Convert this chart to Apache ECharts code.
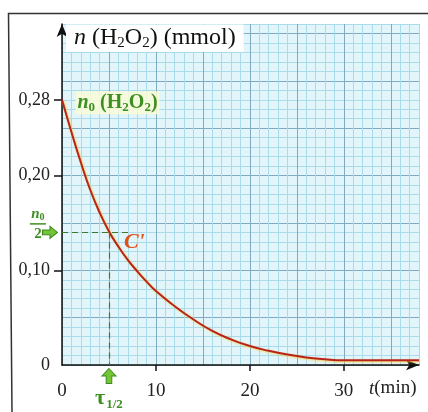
<!DOCTYPE html>
<html>
<head>
<meta charset="utf-8">
<script src="https://cdn.jsdelivr.net/npm/echarts@6/dist/echarts.min.js"></script>
<style>
    html, body { margin: 0; padding: 0; background: #fff; }
    #chart { width: 428px; height: 412px; }
</style>
</head>
<body>
<div id="chart"></div>
<script>
// n(H2O2) en fonction du temps
const tMin = [0, 1, 2, 3, 4, 5, 6, 7, 8, 9, 10, 12, 14, 16, 18, 20, 22, 24, 26, 28, 30, 32, 34, 36, 38];
const nMmol = [0.28, 0.246, 0.214, 0.185, 0.161, 0.141, 0.125, 0.111, 0.099, 0.088, 0.078, 0.062, 0.048, 0.036, 0.027, 0.02, 0.015, 0.011, 0.008, 0.006, 0.005, 0.005, 0.005, 0.005, 0.005];
const xLabels = [0, 10, 20, 30];
const xTicks = [10, 20, 30];
const yLabels = [0, 0.1, 0.2, 0.28];
const yTicks = [0.1, 0.2, 0.28];
const n0 = 0.28;
const nHalf = 0.14;
const tHalf = 5;
const dashEnd = 7.3;
const curveMark = [7.7, 0.129];

const serif = '"Liberation Serif", "DejaVu Serif", serif';
const green = '#3d8f22';
const gridColors = ['#80abc0', '#aadbea', '#aadbea', '#aadbea', '#aadbea'];

const eChart = echarts.init(document.getElementById('chart'));
const option = {
    animation: false,
    title: {
        left: 66,
        top: 23,
        padding: [1, 8, 1, 8],
        backgroundColor: '#ffffff',
        text: '{i|n} (H{s|2}O{s|2}) (mmol)',
        textStyle: {
            fontFamily: serif,
            fontSize: 24,
            fontWeight: 'normal',
            color: '#111',
            rich: {
                i: { fontFamily: serif, fontSize: 24, fontStyle: 'italic', color: '#111' },
                s: { fontFamily: serif, fontSize: 15, color: '#111', padding: [12, 0, 0, 0] }
            }
        }
    },
    grid: {
        left: 62,
        right: 9,
        top: 24,
        bottom: 47,
        outerBoundsMode: 'none',
        containLabel: false,
        show: true,
        backgroundColor: '#e2f5fa',
        borderWidth: 0
    },
    xAxis: [
        {
            // quadrillage
            type: 'value',
            min: 0,
            max: 38,
            interval: 1,
            axisLine: { show: false },
            axisTick: { show: false },
            axisLabel: { show: false },
            splitLine: { show: true, lineStyle: { color: gridColors, width: 1 } }
        },
        {
            type: 'value',
            min: 0,
            max: 38,
            position: 'bottom',
            axisLine: {
                show: true,
                symbol: ['none', 'arrow'],
                symbolSize: [8, 13],
                lineStyle: { color: '#111', width: 1.5 }
            },
            axisTick: { show: true, inside: false, length: 6, customValues: xTicks, lineStyle: { color: '#111', width: 1.5 } },
            axisLabel: {
                customValues: xLabels,
                margin: 17,
                fontFamily: serif,
                fontSize: 19,
                color: '#222'
            },
            splitLine: { show: false }
        }
    ],
    yAxis: [
        {
            type: 'value',
            min: 0,
            max: 0.36,
            interval: 0.01,
            position: 'left',
            axisLine: { show: false },
            axisTick: { show: false },
            axisLabel: { show: false },
            splitLine: { show: true, lineStyle: { color: gridColors, width: 1 } }
        },
        {
            type: 'value',
            min: 0,
            max: 0.36,
            position: 'left',
            axisLine: {
                show: true,
                symbol: ['none', 'arrow'],
                symbolSize: [8, 13],
                lineStyle: { color: '#111', width: 1.5 }
            },
            axisTick: { show: true, inside: false, length: 8, customValues: yTicks, lineStyle: { color: '#111', width: 1.5 } },
            axisLabel: {
                customValues: yLabels,
                margin: 12,
                fontFamily: serif,
                fontSize: 18,
                color: '#222',
                formatter: function(v) {
                    return v === 0 ? '0' : v.toFixed(2).replace('.', ',');
                }
            },
            splitLine: { show: false }
        }
    ],
    graphic: [
        {
            type: 'polyline',
            shape: { points: [[428, 13.5], [8.5, 13.5], [12, 412]] },
            style: { stroke: '#333', lineWidth: 1.5, fill: null }
        },
        {
            type: 'text',
            left: 369,
            top: 379,
            style: {
                text: '{i|t}(min)',
                font: '19px ' + serif,
                fill: '#222',
                rich: {
                    i: { fontFamily: serif, fontSize: 19, fontStyle: 'italic', color: '#222' }
                }
            }
        }
    ],
    series: [
        {
            type: 'line',
            xAxisIndex: 1,
            yAxisIndex: 1,
            smooth: 0.5,
            symbol: 'none',
            data: tMin.map((t, i) => [t, nMmol[i]]),
            lineStyle: {
                color: '#b8231c',
                width: 2,
                shadowColor: 'rgba(255, 200, 40, 0.8)',
                shadowBlur: 2,
                shadowOffsetX: 1,
                shadowOffsetY: 1
            },
            markLine: {
                silent: true,
                symbol: 'none',
                label: { show: false },
                lineStyle: { color: '#3f7a2a', type: [6, 4], width: 1.2 },
                data: [
                    [{ coord: [0, nHalf] }, { coord: [dashEnd, nHalf] }],
                    [{ coord: [tHalf, nHalf] }, { coord: [tHalf, 0] }]
                ]
            },
            markPoint: {
                silent: true,
                data: [
                    {
                        // flèche τ1/2
                        coord: [tHalf, 0],
                        symbol: 'path://M5,0 L10,5 L7,5 L7,10 L3,10 L3,5 L0,5 Z',
                        symbolSize: [14, 15],
                        symbolOffset: [0, 11],
                        itemStyle: { color: '#72c535', borderColor: '#3f8a1f', borderWidth: 1 },
                        label: {
                            show: true,
                            position: 'bottom',
                            distance: 2,
                            formatter: '{t|τ}{s|1/2}',
                            rich: {
                                t: { fontFamily: serif, fontSize: 22, fontWeight: 'bold', color: green },
                                s: { fontFamily: serif, fontSize: 13, fontWeight: 'bold', color: green, padding: [12, 0, 0, 1] }
                            }
                        }
                    },
                    {
                        // flèche n0/2
                        coord: [0, nHalf],
                        symbol: 'path://M0,3 L5,3 L5,0 L10,5 L5,10 L5,7 L0,7 Z',
                        symbolSize: [15, 12],
                        symbolOffset: [-12, 0],
                        itemStyle: { color: '#72c535', borderColor: '#3f8a1f', borderWidth: 1 },
                        label: {
                            show: true,
                            position: 'left',
                            distance: 4,
                            offset: [0, -8],
                            align: 'center',
                            formatter: '{n|n}{z|0}\n{bar|}\n{d|2}',
                            rich: {
                                n: { fontFamily: serif, fontSize: 15, fontStyle: 'italic', fontWeight: 'bold', color: green, lineHeight: 15 },
                                z: { fontFamily: serif, fontSize: 10, fontWeight: 'bold', color: green, lineHeight: 15, padding: [6, 0, 0, 0] },
                                bar: { width: 16, height: 1.5, backgroundColor: green, lineHeight: 4 },
                                d: { fontFamily: serif, fontSize: 15, fontWeight: 'bold', color: green, lineHeight: 16 }
                            }
                        }
                    },
                    {
                        // n0 (H2O2)
                        coord: [0, n0],
                        symbol: 'circle',
                        symbolSize: 1,
                        itemStyle: { color: 'rgba(0,0,0,0)' },
                        label: {
                            show: true,
                            position: 'right',
                            distance: 13,
                            offset: [0, 3],
                            backgroundColor: 'rgba(250, 252, 215, 0.85)',
                            padding: [0, 2],
                            formatter: '{i|n}{z|0} (H{s|2}O{s|2})',
                            fontFamily: serif,
                            fontSize: 20,
                            fontWeight: 'bold',
                            color: green,
                            rich: {
                                i: { fontFamily: serif, fontSize: 20, fontStyle: 'italic', fontWeight: 'bold', color: green },
                                z: { fontFamily: serif, fontSize: 13, fontWeight: 'bold', color: green, padding: [10, 0, 0, 0] },
                                s: { fontFamily: serif, fontSize: 13, fontWeight: 'bold', color: green, padding: [10, 0, 0, 0] }
                            }
                        }
                    },
                    {
                        // courbe C'
                        coord: curveMark,
                        symbol: 'circle',
                        symbolSize: 1,
                        itemStyle: { color: 'rgba(0,0,0,0)' },
                        label: {
                            show: true,
                            position: 'inside',
                            formatter: "C'",
                            fontFamily: serif,
                            fontSize: 22,
                            fontStyle: 'italic',
                            fontWeight: 'bold',
                            color: '#e0521c'
                        }
                    }
                ]
            }
        }
    ]
};
eChart.setOption(option);
</script>
</body>
</html>
